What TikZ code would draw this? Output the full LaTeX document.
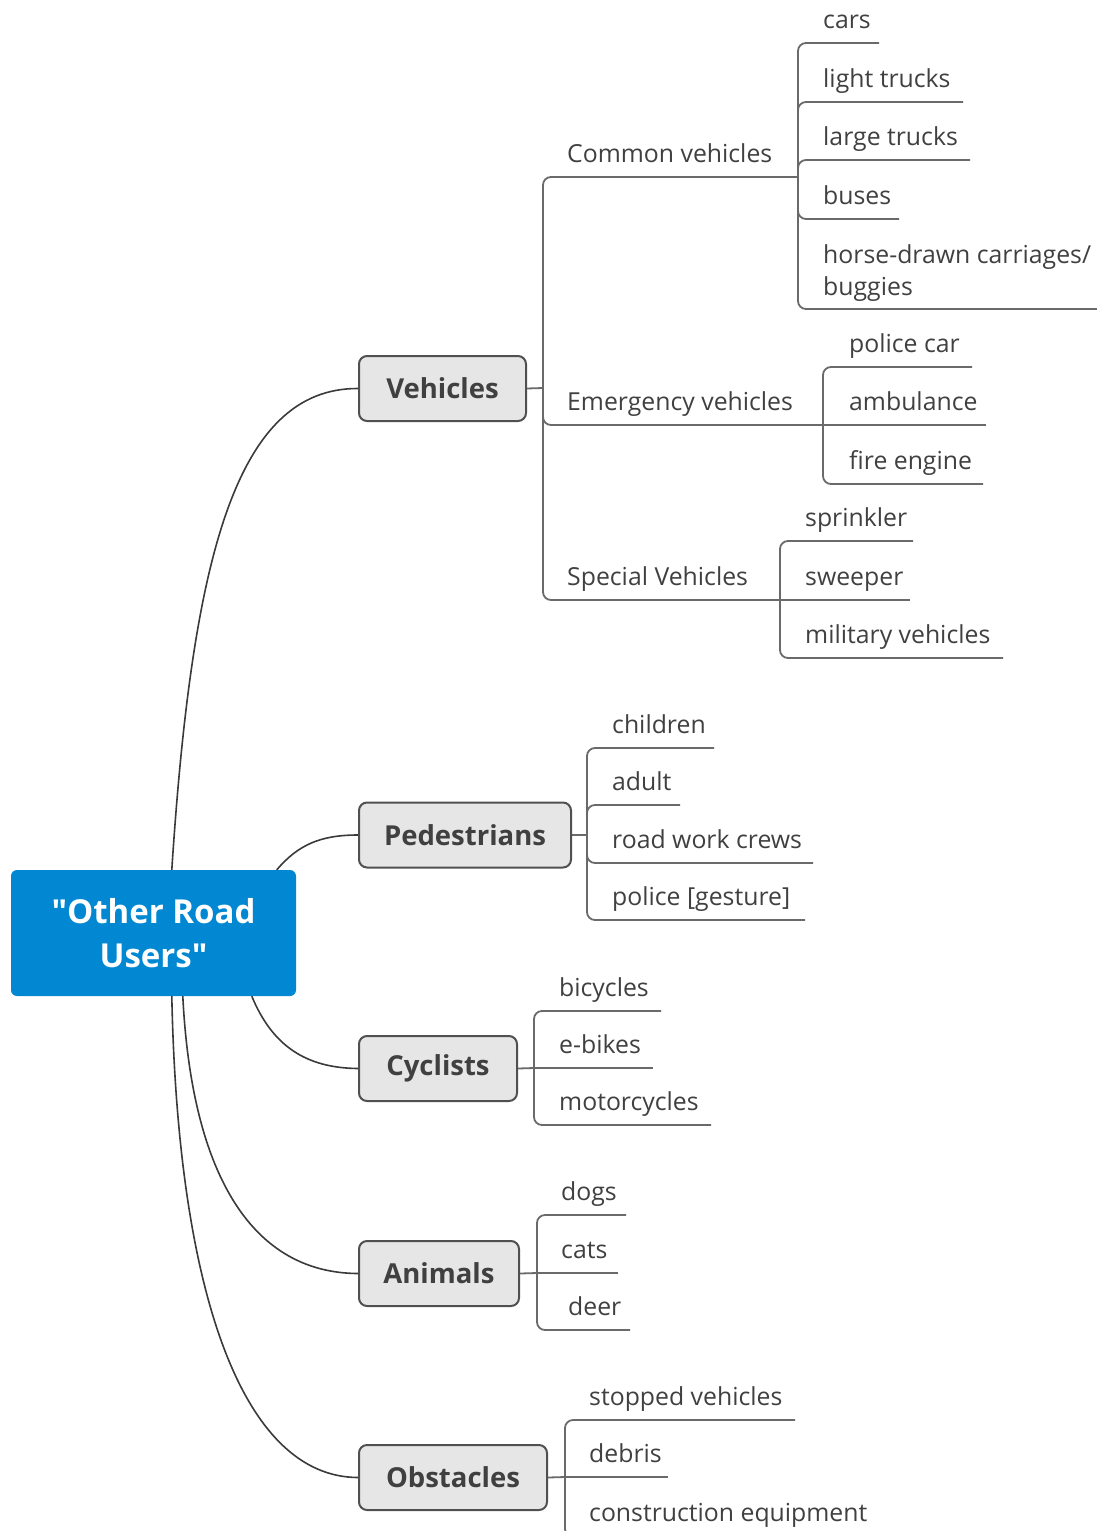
\documentclass[tikz,border=0pt]{standalone}
\usepackage{fontspec}
\setmainfont{Open Sans}
\newfontfamily\rootfont{Open Sans}[Ligatures=TeXOff]
\usetikzlibrary{calc}
\definecolor{rootblue}{HTML}{0288D2}
\definecolor{boxfill}{HTML}{E6E6E6}
\definecolor{boxline}{HTML}{505050}
\definecolor{txt}{HTML}{404040}
\definecolor{conncol}{HTML}{6A6A6A}
\definecolor{curvecol}{HTML}{3A3A3A}
\tikzset{
  rootbox/.style={fill=rootblue, rounded corners=6pt, minimum width=285pt, minimum height=126pt,
    text=white, align=center, font=\rootfont\fontsize{33}{44}\selectfont\bfseries, inner sep=0pt},
  branch/.style={draw=boxline, line width=2pt, fill=boxfill, rounded corners=8pt,
    minimum height=65pt, inner sep=0pt, text=txt, font=\fontsize{27.5}{32}\selectfont\bfseries},
  sub/.style={anchor=base west, inner sep=0pt, text=txt, font=\fontsize{24.8}{32}\selectfont},
  conn/.style={draw=conncol, line width=1.8pt, rounded corners=8pt},
  curve/.style={draw=curvecol, line width=1.6pt}
}
\begin{document}
\begin{tikzpicture}[x=1pt,y=-1pt]
\useasboundingbox (0,0) rectangle (1097,1531);
\clip (0,0) rectangle (1097,1531);

% root
\node[rootbox] (root) at (153.5,933) {"Other Road\\Users"};

% branches
\node[branch, minimum width=167pt] (veh) at (442.5,388.5) {Vehicles};
\node[branch, minimum width=212pt] (ped) at (465,835) {Pedestrians};
\node[branch, minimum width=158pt] (cyc) at (438,1068.5) {Cyclists};
\node[branch, minimum width=160pt] (ani) at (439,1273.5) {Animals};
\node[branch, minimum width=188pt] (obs) at (453,1477.5) {Obstacles};

% root curves
\draw[curve] ([xshift=161pt]root.north west) .. controls (192,560) and (235,388) .. (veh.west);
\draw[curve] ([xshift=266pt]root.north west) .. controls (298,845) and (320,835) .. (ped.west);
\draw[curve] ([xshift=241pt]root.south west) .. controls (272,1045) and (305,1068) .. (cyc.west);
\draw[curve] ([xshift=172pt]root.south west) .. controls (192,1180) and (255,1273) .. (ani.west);
\draw[curve] ([xshift=161pt]root.south west) .. controls (178,1300) and (245,1477) .. (obs.west);

% ---------- Vehicles ----------
\coordinate (vS) at (543,388);
\draw[conn] (veh.east) -- (vS);
\node[sub] (cv) at (567,162) {Common vehicles};
\node[sub] (ev) at (567,410) {Emergency vehicles};
\node[sub] (sv) at (567,585) {Special Vehicles};
\coordinate (cvE) at (798,177);
\coordinate (evE) at (823,425);
\coordinate (svE) at (780,600);
\draw[conn] (vS) |- (cvE);
\draw[conn] (vS) |- (evE);
\draw[conn] (vS) |- (svE);

% Common vehicles
\node[sub] (cars) at (823,28) {cars};
\node[sub] (lt) at (823,87) {light trucks};
\node[sub] (lgt) at (823,145) {large trucks};
\node[sub] (bus) at (823,204) {buses};
\node[sub, anchor=south west, align=left] (horse) at (823,302) {horse-drawn carriages/\\buggies};
\coordinate (carsE) at (879,43);
\coordinate (ltE) at (963,102);
\coordinate (lgtE) at (970,160);
\coordinate (busE) at (899,219);
\coordinate (horseE) at (1100,309);
\draw[conn] (cvE) |- (carsE);
\draw[conn] (cvE) |- (ltE);
\draw[conn] (cvE) |- (lgtE);
\draw[conn] (cvE) |- (busE);
\draw[conn] (cvE) |- (horseE);

% Emergency vehicles
\node[sub] (pc) at (849,352) {police car};
\node[sub] (amb) at (849,410) {ambulance};
\node[sub] (fe) at (849,469) {fire engine};
\coordinate (pcE) at (972,367);
\coordinate (ambE) at (986,425);
\coordinate (feE) at (983,484);
\draw[conn] (evE) |- (pcE);
\draw[conn] (evE) -- (ambE);
\draw[conn] (evE) |- (feE);

% Special vehicles
\node[sub] (spr) at (805,526) {sprinkler};
\node[sub] (swe) at (805,585) {sweeper};
\node[sub] (mil) at (805,643) {military vehicles};
\coordinate (sprE) at (913,541);
\coordinate (sweE) at (910,600);
\coordinate (milE) at (1003,658);
\draw[conn] (svE) |- (sprE);
\draw[conn] (svE) -- (sweE);
\draw[conn] (svE) |- (milE);

% ---------- Pedestrians ----------
\coordinate (pS) at (587,835);
\draw[conn] (ped.east) -- (pS);
\node[sub] (chi) at (612,733) {children};
\node[sub] (adu) at (612,790) {adult};
\node[sub] (rwc) at (612,848) {road work crews};
\node[sub] (pol) at (612,905) {police [gesture]};
\coordinate (chiE) at (714,748);
\coordinate (aduE) at (680,805);
\coordinate (rwcE) at (813,863);
\coordinate (polE) at (805,920);
\draw[conn] (pS) |- (chiE);
\draw[conn] (pS) |- (aduE);
\draw[conn] (pS) |- (rwcE);
\draw[conn] (pS) |- (polE);

% ---------- Cyclists ----------
\coordinate (cyS) at (534,1068);
\draw[conn] (cyc.east) -- (cyS);
\node[sub] (bic) at (559,996) {bicycles};
\node[sub] (ebk) at (559,1053) {e-bikes};
\node[sub] (mot) at (559,1110) {motorcycles};
\coordinate (bicE) at (661,1011);
\coordinate (ebkE) at (653,1068);
\coordinate (motE) at (711,1125);
\draw[conn] (cyS) |- (bicE);
\draw[conn] (cyS) -- (ebkE);
\draw[conn] (cyS) |- (motE);

% ---------- Animals ----------
\coordinate (aS) at (537,1273);
\draw[conn] (ani.east) -- (aS);
\node[sub] (dog) at (561,1200) {dogs};
\node[sub] (cat) at (561,1258) {cats};
\node[sub] (dee) at (568,1315) {deer};
\coordinate (dogE) at (626,1215);
\coordinate (catE) at (618,1273);
\coordinate (deeE) at (630,1330);
\draw[conn] (aS) |- (dogE);
\draw[conn] (aS) -- (catE);
\draw[conn] (aS) |- (deeE);

% ---------- Obstacles ----------
\coordinate (oS) at (565,1477);
\draw[conn] (obs.east) -- (oS);
\node[sub] (stv) at (589,1405) {stopped vehicles};
\node[sub] (deb) at (589,1462) {debris};
\node[sub] (con) at (589,1521) {construction equipment};
\coordinate (stvE) at (795,1420);
\coordinate (debE) at (668,1477);
\coordinate (conE) at (880,1537);
\draw[conn] (oS) |- (stvE);
\draw[conn] (oS) -- (debE);
\draw[conn] (oS) |- (conE);
\end{tikzpicture}
\end{document}
